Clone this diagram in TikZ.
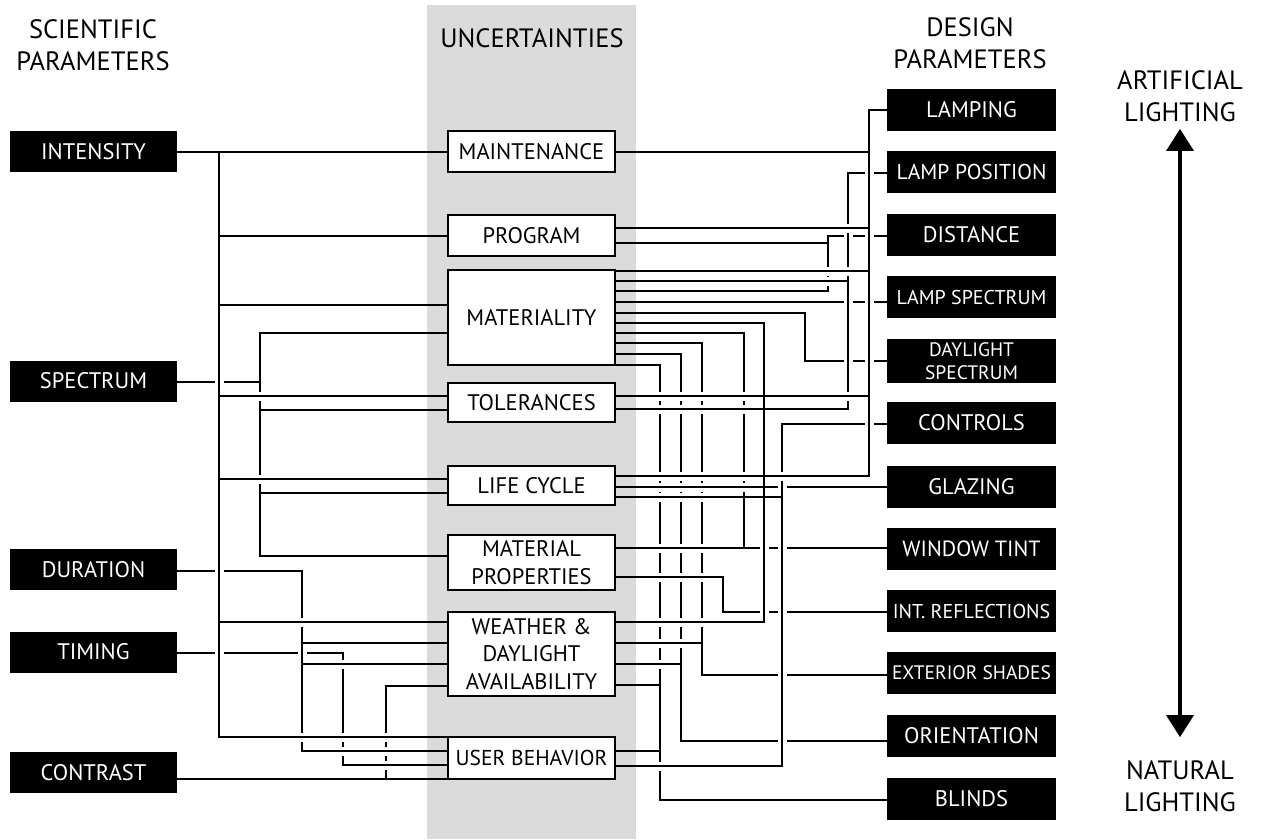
\documentclass[tikz,border=0pt]{standalone}
\usepackage{fontspec}
\setmainfont{PT Sans}
\usetikzlibrary{arrows.meta, positioning}
\definecolor{bandgray}{gray}{0.86}
% broken horizontal line at a crossing
\newcommand{\hgap}[2]{%
  \fill[white] (#1-4.5,#2-1.5) rectangle (#1+4.5,#2+1.5);
  \draw[link] (#1,#2-3) -- (#1,#2+3);}
% broken vertical line at a crossing
\newcommand{\vgap}[2]{%
  \fill[white] (#1-1.5,#2-4.5) rectangle (#1+1.5,#2+4.5);
  \draw[link] (#1-3,#2) -- (#1+3,#2);}

\begin{document}
\begin{tikzpicture}[x=1pt, y=-1pt,
    param/.style = {rectangle, fill=black, text=white, minimum width=167pt, minimum height=41pt, inner sep=0pt, align=center, font=\fontsize{22.5}{24}\selectfont},
    design/.style = {param, minimum width=169pt, minimum height=42pt},
    uncert/.style = {rectangle, draw=black, line width=1.8pt, fill=white, minimum width=167pt, inner sep=0pt, align=center, font=\fontsize{22.5}{27.5}\selectfont},
    head/.style = {align=center, font=\fontsize{26.5}{31.5}\selectfont},
    link/.style = {line width=1.8pt},
    bigarrow/.style = {line width=3.5pt, {Triangle[width=27pt,length=22pt]}-{Triangle[width=27pt,length=22pt]}}
]
\useasboundingbox (0,0) rectangle (1261,839);
\fill[bandgray] (427,5) rectangle (636,839);

% Headers
\node[head] (scihead) at (93,45) {SCIENTIFIC\\PARAMETERS};
\node[head] (unchead) at (532,38) {UNCERTAINTIES};
\node[head] (deshead) at (970,43) {DESIGN\\PARAMETERS};
\node[head] (artif) at (1180,96) {ARTIFICIAL\\LIGHTING};
\node[head] (natural) at (1180,786) {NATURAL\\LIGHTING};
\draw[bigarrow, shorten <=4pt, shorten >=20pt] (artif) -- (natural);

% Scientific parameters
\node[param] (intensity) at (93.5,151.5) {INTENSITY};
\node[param] (spectrum) at (93.5,381) {SPECTRUM};
\node[param] (duration) at (93.5,569.5) {DURATION};
\node[param] (timing) at (93.5,652) {TIMING};
\node[param] (contrast) at (93.5,772.5) {CONTRAST};

% Uncertainties
\node[uncert, minimum height=41pt] (maint) at (531.5,151.5) {MAINTENANCE};
\node[uncert, minimum height=41pt] (program) at (531.5,235.5) {PROGRAM};
\node[uncert, minimum height=95pt] (mater) at (531.5,317.5) {MATERIALITY};
\node[uncert, minimum height=39pt] (toler) at (531.5,402.5) {TOLERANCES};
\node[uncert, minimum height=39pt] (life) at (531.5,485.5) {LIFE CYCLE};
\node[uncert, minimum height=55pt] (matprop) at (531.5,562.5) {MATERIAL\\PROPERTIES};
\node[uncert, minimum height=84pt] (weather) at (531.5,654) {WEATHER \&\\DAYLIGHT\\AVAILABILITY};
\node[uncert, minimum height=42pt, font=\fontsize{21.5}{24}\selectfont] (userbeh) at (531.5,758) {USER BEHAVIOR};

% Design parameters
\node[design] (lamping) at (971.5,109.5) {LAMPING};
\node[design, font=\fontsize{21.5}{24}\selectfont] (lamppos) at (971.5,172) {LAMP POSITION};
\node[design] (distance) at (971.5,235) {DISTANCE};
\node[design, font=\fontsize{20}{24}\selectfont] (lampspec) at (971.5,297) {LAMP SPECTRUM};
\node[design, minimum height=44pt, font=\fontsize{19.5}{23.5}\selectfont] (dayspec) at (971.5,361) {DAYLIGHT\\SPECTRUM};
\node[design] (controls) at (971.5,423) {CONTROLS};
\node[design] (glazing) at (971.5,487) {GLAZING};
\node[design, font=\fontsize{22}{24}\selectfont] (wintint) at (971.5,549) {WINDOW TINT};
\node[design, font=\fontsize{20}{24}\selectfont] (intrefl) at (971.5,611) {INT. REFLECTIONS};
\node[design, font=\fontsize{19.5}{24}\selectfont] (extshades) at (971.5,673) {EXTERIOR SHADES};
\node[design] (orient) at (971.5,736) {ORIENTATION};
\node[design] (blinds) at (971.5,799) {BLINDS};

% Bus columns
\coordinate (busI) at (219,152);
\coordinate (busS) at (260,333);
\coordinate (busD) at (302,571);
\coordinate (busT) at (343,653);
\coordinate (busC) at (386,686);
\coordinate (busLamp) at (869,110);
\coordinate (busLpos) at (848,173);
\coordinate (busDist) at (828,236);
\coordinate (busDs) at (805,313);
\coordinate (busWr) at (764,323);
\coordinate (busWt) at (744,333);
\coordinate (busEs) at (702,343);
\coordinate (busOr) at (681,354);
\coordinate (busBl) at (660,365);
\coordinate (busCt) at (782,424);
\coordinate (busIr) at (723,577);

% Left side
\draw[link] (intensity.east |- busI) -- (maint.west |- busI);
\draw[link] (busI) |- (userbeh.west |- 0,737);
\foreach \y/\n in {236/program, 305/mater, 396/toler, 479/life, 622/weather}
  \draw[link] (busI |- 0,\y) -- (\n.west |- 0,\y);
\draw[link] (spectrum.east |- 0,382) -- (busS |- 0,382);
\draw[link] (mater.west |- busS) -| (busS |- 0,556) -- (matprop.west |- 0,556);
\foreach \y/\n in {410/toler, 493/life}
  \draw[link] (busS |- 0,\y) -- (\n.west |- 0,\y);
\draw[link] (duration.east |- busD) -| (busD |- 0,751) -- (userbeh.west |- 0,751);
\foreach \y in {643, 664}
  \draw[link] (busD |- 0,\y) -- (weather.west |- 0,\y);
\draw[link] (timing.east |- busT) -| (busT |- 0,765) -- (userbeh.west |- 0,765);
\draw[link] (contrast.east |- 0,779) -- (userbeh.west |- 0,779);
\draw[link] (busC |- 0,779) |- (weather.west |- busC);

% Right side
\draw[link] (lamping.west |- busLamp) -| (busLamp |- 0,476) -- (life.east |- 0,476);
\foreach \y/\n in {152/maint, 228/program, 271/mater, 396/toler}
  \draw[link] (busLamp |- 0,\y) -- (\n.east |- 0,\y);
\draw[link] (lamppos.west |- busLpos) -| (busLpos |- 0,409) -- (toler.east |- 0,409);
\draw[link] (busLpos |- 0,281) -- (mater.east |- 0,281);
\draw[link] (distance.west |- busDist) -| (busDist |- 0,291) -- (mater.east |- 0,291);
\draw[link] (busDist |- 0,243) -- (program.east |- 0,243);
\draw[link] (mater.east |- 0,302) -- (lampspec.west |- 0,302);
\draw[link] (mater.east |- busDs) -| (busDs |- 0,361) -- (dayspec.west |- 0,361);
\draw[link] (mater.east |- busWr) -| (busWr |- 0,622) -- (weather.east |- 0,622);
\draw[link] (mater.east |- busWt) -| (busWt |- 0,548);
\draw[link] (matprop.east |- 0,548) -- (wintint.west |- 0,548);
\draw[link] (mater.east |- busEs) -| (busEs |- 0,675) -- (extshades.west |- 0,675);
\draw[link] (weather.east |- 0,643) -- (busEs |- 0,643);
\draw[link] (mater.east |- busOr) -| (busOr |- 0,741) -- (orient.west |- 0,741);
\draw[link] (weather.east |- 0,664) -- (busOr |- 0,664);
\draw[link] (mater.east |- busBl) -| (busBl |- 0,800) -- (blinds.west |- 0,800);
\draw[link] (weather.east |- 0,685) -- (busBl |- 0,685);
\draw[link] (userbeh.east |- 0,751) -- (busBl |- 0,751);
\draw[link] (controls.west |- busCt) -| (busCt |- 0,766) -- (userbeh.east |- 0,766);
\draw[link] (life.east |- 0,497) -- (busCt |- 0,497);
\draw[link] (life.east |- 0,487) -- (glazing.west |- 0,487);
\draw[link] (matprop.east |- busIr) -| (busIr |- 0,612) -- (intrefl.west |- 0,612);

% Crossings, left
\hgap{219}{382} \hgap{219}{571} \hgap{219}{653} \hgap{302}{653}
\vgap{260}{396} \vgap{260}{479} \vgap{302}{622} \vgap{302}{737}
\vgap{343}{664} \vgap{343}{737} \vgap{343}{751}
\vgap{386}{737} \vgap{386}{751} \vgap{386}{765}
% Crossings, right
\foreach \y in {173,236,302,361,424} {\hgap{869}{\y}}
\foreach \y in {236,302,361} {\hgap{848}{\y}}
\foreach \y in {228,271,396} {\vgap{848}{\y}}
\vgap{828}{271} \vgap{828}{281}
\foreach \y in {487,548,612,675,741} {\hgap{782}{\y}}
\vgap{782}{476}
\hgap{764}{548} \hgap{764}{612}
\foreach \y in {396,409,476,487} {\vgap{744}{\y}}
\foreach \x in {660,681,702} {\foreach \y in {396,409,476,487,497,548,577,622} {\vgap{\x}{\y}}}
\vgap{681}{643} \vgap{660}{643} \vgap{660}{664} \vgap{660}{766}

\end{tikzpicture}
\end{document}
